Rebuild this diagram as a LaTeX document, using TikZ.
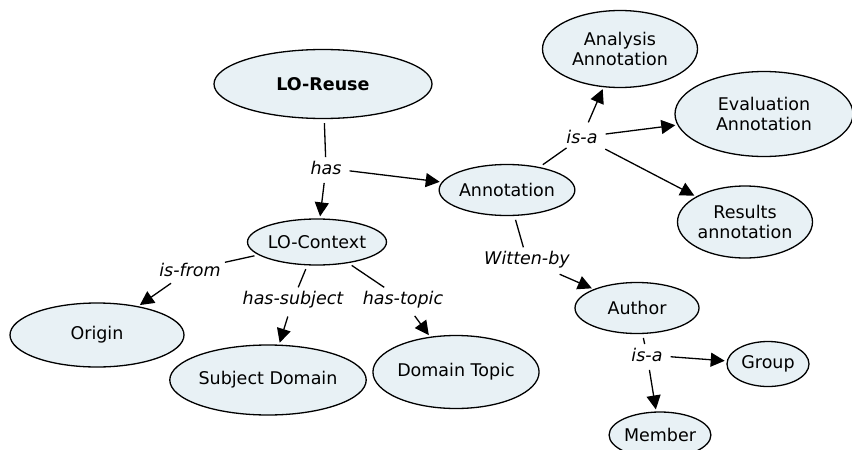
\documentclass[tikz,border=0pt]{standalone}
\usepackage{fontspec}
\setmainfont{DejaVu Sans}
\usepackage{tikz}
\usetikzlibrary{positioning, arrows.meta, shapes.geometric}

\definecolor{conceptfill}{RGB}{232,241,245}

\begin{document}
\begin{tikzpicture}[
  x=1pt, y=-1pt,
  font=\fontsize{17.5}{20}\selectfont,
  concept/.style={draw, ellipse, line width=1.3pt, fill=conceptfill,
    inner sep=0pt, align=center},
  rel/.style={font=\fontsize{17.5}{20}\selectfont\itshape, inner sep=4pt},
  conn/.style={line width=1.3pt, shorten <=4pt},
  arr/.style={conn, -{Triangle[length=14pt, width=14pt]}, shorten >=2pt},
]
  \useasboundingbox (0,0) rectangle (852,450);

  % concepts
  \node[concept, minimum width=218pt, minimum height=69pt] (reuse) at (323,84) {\textbf{LO-Reuse}};
  \node[concept, minimum width=123pt, minimum height=51pt] (annot) at (507,190) {Annotation};
  \node[concept, minimum width=127pt, minimum height=46pt] (context) at (317,242) {LO-Context};
  \node[concept, minimum width=155pt, minimum height=77pt] (analysis) at (620,49) {Analysis\\Annotation};
  \node[concept, minimum width=178pt, minimum height=85pt] (evaluation) at (764,114) {Evaluation\\Annotation};
  \node[concept, minimum width=135pt, minimum height=72pt] (results) at (745,222) {Results\\annotation};
  \node[concept, minimum width=124pt, minimum height=51pt] (author) at (637,308) {Author};
  \node[concept, minimum width=82pt, minimum height=45pt] (group) at (768,364) {Group};
  \node[concept, minimum width=99pt, minimum height=46pt] (member) at (660,435) {Member};
  \node[concept, minimum width=174pt, minimum height=64pt] (origin) at (97,335) {Origin};
  \node[concept, minimum width=179pt, minimum height=70pt] (subject) at (268,380) {Subject Domain};
  \node[concept, minimum width=166pt, minimum height=73pt] (topic) at (456,372) {Domain Topic};

  % relations
  \node[rel] (has) at (326,168) {has};
  \node[rel] (isa1) at (582,137) {is-a};
  \node[rel] (written) at (527,260) {Witten-by};
  \node[rel] (isa2) at (647,355) {is-a};
  \node[rel] (isfrom) at (190,270) {is-from};
  \node[rel] (hassubject) at (293,300) {has-subject};
  \node[rel] (hastopic) at (403,300) {has-topic};

  \draw[conn] (reuse) -- (has);
  \draw[arr] (has) -- (context);
  \draw[arr] (has) -- (annot);

  \draw[conn] (annot) -- (isa1);
  \draw[arr] (isa1) -- (analysis);
  \draw[arr] (isa1) -- (evaluation);
  \draw[arr] (isa1) -- (results);

  \draw[conn] (annot) -- (written);
  \draw[arr] (written) -- (author);

  \draw[conn] (author) -- (isa2);
  \draw[arr] (isa2) -- (group);
  \draw[arr] (isa2) -- (member);

  \draw[conn] (context) -- (isfrom);
  \draw[arr] (isfrom) -- (origin);
  \draw[conn] (context) -- (hassubject);
  \draw[arr] (hassubject) -- (subject);
  \draw[conn] (context) -- (hastopic);
  \draw[arr] (hastopic) -- (topic);
\end{tikzpicture}
\end{document}
